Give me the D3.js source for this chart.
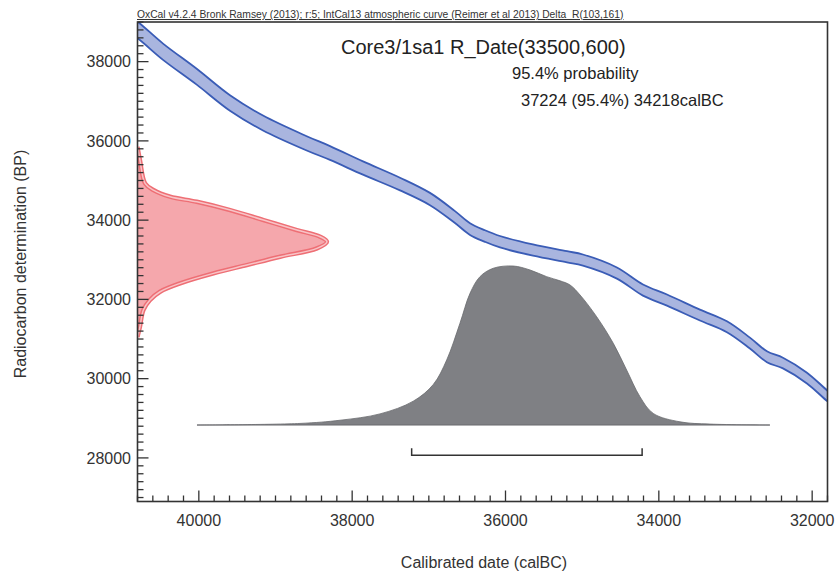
<!DOCTYPE html>
<html>
<head>
<meta charset="utf-8">
<script src="https://cdn.jsdelivr.net/npm/d3@7"></script>
<style>
  html, body { margin: 0; padding: 0; background: #fff; }
  svg { display: block; font-family: "Liberation Sans", Arial, Helvetica, sans-serif; }
</style>
</head>
<body>
<svg id="chart" width="837" height="574"></svg>
<script>
// ---------------- data ----------------
const headerText = "OxCal v4.2.4 Bronk Ramsey (2013); r:5; IntCal13 atmospheric curve (Reimer et al 2013) Delta_R(103,161)";
const titleText = "Core3/1sa1 R_Date(33500,600)";
const probText = "95.4% probability";
const rangeText = "37224 (95.4%) 34218calBC";
const xLabel = "Calibrated date (calBC)";
const yLabel = "Radiocarbon determination (BP)";

const xTicks = [40000, 38000, 36000, 34000, 32000];
const yTicks = [28000, 30000, 32000, 34000, 36000, 38000];

// calibration curve (calBC, BP, 1-sigma BP)
const curveCal = [41000, 40800, 40467, 40028, 39594, 39163, 38593, 38289, 37859, 37376, 36985, 36659, 36463, 36268, 36072, 35642, 35198, 34990, 34547, 34207, 33894, 33464, 33112, 32812, 32590, 32381, 32068, 31800, 31600];
const curveBP  = [39050, 38798, 38250, 37619, 36956, 36451, 35938, 35694, 35315, 34911, 34533, 34078, 33775, 33599, 33455, 33245, 33076, 32993, 32665, 32236, 31983, 31605, 31310, 30898, 30553, 30393, 30015, 29561, 29250];
const curveErr = [210, 210, 205, 200, 195, 188, 180, 175, 168, 160, 155, 150, 148, 146, 145, 142, 140, 140, 140, 140, 140, 138, 138, 138, 138, 135, 135, 135, 135];

// radiocarbon date distribution (BP, relative probability)
const c14BP   = [35850, 35517, 34929, 34760, 34591, 34464, 34255, 34003, 33750, 33581, 33455, 33288, 33076, 32867, 32657, 32405, 32193, 31984, 31731, 31310, 31050];
const c14Prob = [0.000, 0.013, 0.040, 0.084, 0.172, 0.313, 0.489, 0.665, 0.841, 0.964, 1.000, 0.947, 0.753, 0.577, 0.401, 0.225, 0.119, 0.066, 0.031, 0.013, 0.000];

// calibrated distribution (calBC, relative probability)
const calYear = [40024, 38681, 38159, 37637, 37203, 36942, 36767, 36594, 36463, 36333, 36159, 35898, 35680, 35463, 35289, 35159, 35028, 34811, 34594, 34420, 34246, 34073, 33724, 33333, 32551];
const calProb = [0.000, 0.010, 0.030, 0.070, 0.150, 0.255, 0.409, 0.640, 0.828, 0.933, 0.986, 1.000, 0.975, 0.933, 0.907, 0.881, 0.818, 0.681, 0.514, 0.346, 0.178, 0.073, 0.020, 0.006, 0.000];

// 95.4% range
const hpdRange = [37224, 34218];

// ---------------- layout ----------------
const svg = d3.select("#chart");
const L = 137.5, R = 827.5, T = 22, B = 501.5;
const x = d3.scaleLinear().domain([40800, 31800]).range([L, R]);
const y = d3.scaleLinear().domain([26900, 39000]).range([B, T]);
const textCol = "#333";

// clip
svg.append("defs").append("clipPath").attr("id", "plotclip")
  .append("rect").attr("x", L).attr("y", T).attr("width", R - L).attr("height", B - T);

const plot = svg.append("g").attr("clip-path", "url(#plotclip)");

// --- calibration curve band ---
const curve = curveCal.map((c, i) => ({ c, bp: curveBP[i], e: curveErr[i] }));
const band = d3.area().x(d => x(d.c)).y0(d => y(d.bp - d.e)).y1(d => y(d.bp + d.e)).curve(d3.curveCatmullRom);
plot.append("path").datum(curve).attr("d", band).attr("fill", "#a9b5df");
const edgeHi = d3.line().x(d => x(d.c)).y(d => y(d.bp + d.e)).curve(d3.curveCatmullRom);
const edgeLo = d3.line().x(d => x(d.c)).y(d => y(d.bp - d.e)).curve(d3.curveCatmullRom);
[edgeHi, edgeLo].forEach(g => plot.append("path").datum(curve).attr("d", g)
  .attr("fill", "none").attr("stroke", "#3a5cb6").attr("stroke-width", 1.8));

// --- radiocarbon distribution (red, on y axis) ---
const redW = d3.scaleLinear().domain([0, 1]).range([L, 327]);
const c14 = c14BP.map((b, i) => ({ b, p: c14Prob[i] }));
const redArea = d3.area().y(d => y(d.b)).x0(L).x1(d => redW(d.p)).curve(d3.curveCatmullRom);
const redLine = d3.line().y(d => y(d.b)).x(d => redW(d.p)).curve(d3.curveCatmullRom);
plot.append("path").datum(c14).attr("d", redArea).attr("fill", "#f5a7ac");
plot.append("path").datum(c14).attr("d", redLine).attr("fill", "none")
  .attr("stroke", "#ee6f75").attr("stroke-width", 4.4);
plot.append("path").datum(c14).attr("d", redLine).attr("fill", "none")
  .attr("stroke", "#f8c4c7").attr("stroke-width", 1.5);

// --- calibrated distribution (grey) ---
const baseBP = 28830;
const baseY = y(baseBP);
const grayH = d3.scaleLinear().domain([0, 1]).range([baseY, baseY - 159]);
const cal = calYear.map((c, i) => ({ c, p: calProb[i] }));
const grayArea = d3.area().x(d => x(d.c)).y0(baseY).y1(d => grayH(d.p)).curve(d3.curveCatmullRom);
const grayLine = d3.line().x(d => x(d.c)).y(d => grayH(d.p)).curve(d3.curveCatmullRom);
plot.append("path").datum(cal).attr("d", grayArea).attr("fill", "#7f8084");
plot.append("path").datum(cal).attr("d", grayLine).attr("fill", "none")
  .attr("stroke", "#6a6b6e").attr("stroke-width", 0.8);
plot.append("line").attr("x1", x(calYear[0])).attr("x2", x(calYear[calYear.length - 1]))
  .attr("y1", baseY).attr("y2", baseY).attr("stroke", "#6a6b6e").attr("stroke-width", 1);

// --- range bracket ---
const brY = y(28070);
plot.append("path")
  .attr("d", `M${x(hpdRange[0])},${brY - 7}V${brY}H${x(hpdRange[1])}V${brY - 7}`)
  .attr("fill", "none").attr("stroke", "#333").attr("stroke-width", 1.5);

// --- axes (ticks inward) ---
const xMinor = d3.range(31800, 40801, 200);
const yMinor = d3.range(27000, 39001, 200);
const axes = svg.append("g").attr("stroke", "#333").attr("stroke-width", 1.3);
xMinor.forEach(v => {
  const major = v % 2000 === 0;
  axes.append("line").attr("x1", x(v)).attr("x2", x(v)).attr("y1", B).attr("y2", B - (major ? 11 : 6));
});
yMinor.forEach(v => {
  const major = v % 2000 === 0;
  axes.append("line").attr("y1", y(v)).attr("y2", y(v)).attr("x1", L).attr("x2", L + (major ? 11 : 6));
});
svg.append("rect").attr("x", L).attr("y", T).attr("width", R - L).attr("height", B - T)
  .attr("fill", "none").attr("stroke", "#333").attr("stroke-width", 1.6);

svg.append("g").selectAll("text").data(xTicks).join("text")
  .attr("x", d => x(d)).attr("y", 526).attr("text-anchor", "middle")
  .attr("font-size", 16).attr("fill", textCol).text(d => d);
svg.append("g").selectAll("text").data(yTicks).join("text")
  .attr("x", 131).attr("y", d => y(d) + 5.7).attr("text-anchor", "end")
  .attr("font-size", 16).attr("fill", textCol).text(d => d);

// axis titles
svg.append("text").attr("x", 484).attr("y", 568).attr("text-anchor", "middle")
  .attr("font-size", 16).attr("fill", textCol).text(xLabel);
svg.append("text").attr("transform", "translate(26,264) rotate(-90)").attr("text-anchor", "middle")
  .attr("font-size", 16).attr("fill", textCol).text(yLabel);

// header & titles
svg.append("text").attr("x", 137).attr("y", 18).attr("font-size", 10.3)
  .attr("text-decoration", "underline").attr("fill", textCol).text(headerText);
svg.append("text").attr("x", 341).attr("y", 54).attr("font-size", 20).attr("fill", "#222").text(titleText);
svg.append("text").attr("x", 512).attr("y", 79).attr("font-size", 16.5).attr("fill", "#222").text(probText);
svg.append("text").attr("x", 521).attr("y", 106).attr("font-size", 16.5).attr("fill", "#222").text(rangeText);
</script>
</body>
</html>
